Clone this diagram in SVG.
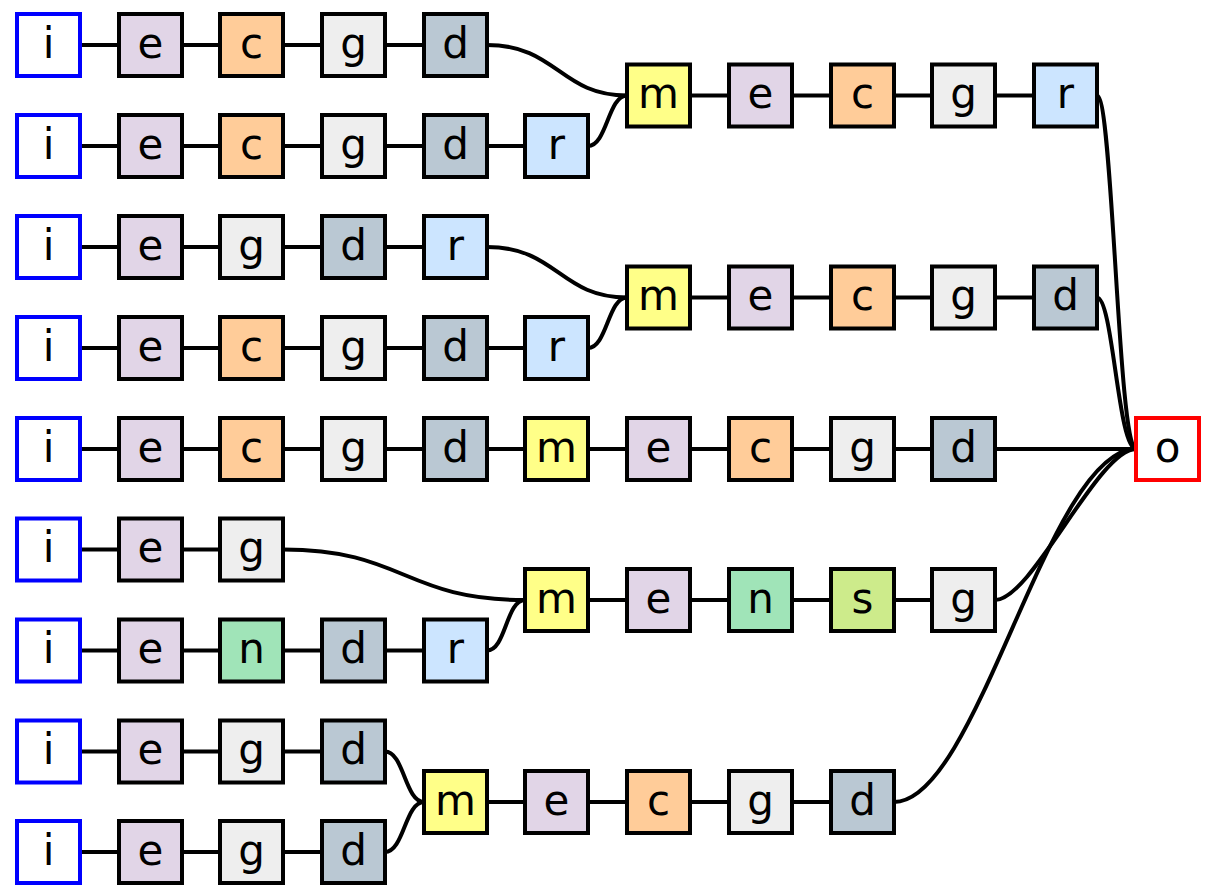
<svg xmlns="http://www.w3.org/2000/svg" width="1210" height="892" viewBox="0 0 1210 892">
<style>
.b{stroke:#000;stroke-width:4}
.i{fill:#fff;stroke:#0000ff}
.o{fill:#fff;stroke:#ff0000}
.e{fill:#e1d5e7}
.c{fill:#ffcc99}
.g{fill:#eeeeee}
.d{fill:#bac8d3}
.r{fill:#cce5ff}
.m{fill:#ffff88}
.n{fill:#a0e4b8}
.s{fill:#cdeb8b}
text{font-family:"DejaVu Sans","Liberation Sans",sans-serif;font-size:42px;text-anchor:middle;fill:#000}
#edges path{stroke:#000;stroke-width:4;fill:none}
</style>
<rect x="0" y="0" width="1210" height="892" fill="#fff"/>
<g id="edges">
<path d="M80,45H119M182,45H220M283,45H322M385,45H424"/>
<path d="M80,146H119M182,146H220M283,146H322M385,146H424M487,146H525"/>
<path d="M80,247H119M182,247H220M283,247H322M385,247H424"/>
<path d="M80,348H119M182,348H220M283,348H322M385,348H424M487,348H525"/>
<path d="M80,449H119M182,449H220M283,449H322M385,449H424M487,449H525M588,449H627M690,449H729M792,449H831M894,449H932"/>
<path d="M80,549.5H119M182,549.5H220"/>
<path d="M80,650.5H119M182,650.5H220M283,650.5H322M385,650.5H424"/>
<path d="M80,751.5H119M182,751.5H220M283,751.5H322"/>
<path d="M80,852H119M182,852H220M283,852H322"/>
<path d="M690,95.5H729M792,95.5H831M894,95.5H932M995,95.5H1034"/>
<path d="M690,297.5H729M792,297.5H831M894,297.5H932M995,297.5H1034"/>
<path d="M588,600H627M690,600H729M792,600H831M894,600H932"/>
<path d="M487,802H525M588,802H627M690,802H729M792,802H831"/>
<path d="M487,45C557,45 560,95.5 627,95.5"/>
<path d="M588,146C607,146 608,95.5 627,95.5"/>
<path d="M487,247C557,247 560,297.5 627,297.5"/>
<path d="M588,348C607,348 608,297.5 627,297.5"/>
<path d="M283,549.5C404,549.5 404,600 525,600"/>
<path d="M487,650.5C506,650.5 506,600 525,600"/>
<path d="M385,751.5C404,751.5 405,802 424,802"/>
<path d="M385,852C404,852 405,802 424,802"/>
<path d="M1097,95.5C1113,95.5 1118,449 1136,449"/>
<path d="M1097,297.5C1113,297.5 1118,449 1136,449"/>
<path d="M995,449H1136"/>
<path d="M995,600C1032,600 1098,449 1136,449"/>
<path d="M894,802C978,802 1048,449 1136,449"/>
</g>
<g id="r0i"><rect class="b i" x="17" y="14" width="63" height="62"/><text x="48.5" y="57.5">i</text></g>
<g id="r0e"><rect class="b e" x="119" y="14" width="63" height="62"/><text x="150.5" y="57.5">e</text></g>
<g id="r0c"><rect class="b c" x="220" y="14" width="63" height="62"/><text x="251.5" y="57.5">c</text></g>
<g id="r0g"><rect class="b g" x="322" y="14" width="63" height="62"/><text x="353.5" y="57.5">g</text></g>
<g id="r0d"><rect class="b d" x="424" y="14" width="63" height="62"/><text x="455.5" y="57.5">d</text></g>
<g id="r1i"><rect class="b i" x="17" y="115" width="63" height="62"/><text x="48.5" y="158.5">i</text></g>
<g id="r1e"><rect class="b e" x="119" y="115" width="63" height="62"/><text x="150.5" y="158.5">e</text></g>
<g id="r1c"><rect class="b c" x="220" y="115" width="63" height="62"/><text x="251.5" y="158.5">c</text></g>
<g id="r1g"><rect class="b g" x="322" y="115" width="63" height="62"/><text x="353.5" y="158.5">g</text></g>
<g id="r1d"><rect class="b d" x="424" y="115" width="63" height="62"/><text x="455.5" y="158.5">d</text></g>
<g id="r1r"><rect class="b r" x="525" y="115" width="63" height="62"/><text x="556.5" y="158.5">r</text></g>
<g id="r2i"><rect class="b i" x="17" y="216" width="63" height="62"/><text x="48.5" y="259.5">i</text></g>
<g id="r2e"><rect class="b e" x="119" y="216" width="63" height="62"/><text x="150.5" y="259.5">e</text></g>
<g id="r2g"><rect class="b g" x="220" y="216" width="63" height="62"/><text x="251.5" y="259.5">g</text></g>
<g id="r2d"><rect class="b d" x="322" y="216" width="63" height="62"/><text x="353.5" y="259.5">d</text></g>
<g id="r2r"><rect class="b r" x="424" y="216" width="63" height="62"/><text x="455.5" y="259.5">r</text></g>
<g id="r3i"><rect class="b i" x="17" y="317" width="63" height="62"/><text x="48.5" y="360.5">i</text></g>
<g id="r3e"><rect class="b e" x="119" y="317" width="63" height="62"/><text x="150.5" y="360.5">e</text></g>
<g id="r3c"><rect class="b c" x="220" y="317" width="63" height="62"/><text x="251.5" y="360.5">c</text></g>
<g id="r3g"><rect class="b g" x="322" y="317" width="63" height="62"/><text x="353.5" y="360.5">g</text></g>
<g id="r3d"><rect class="b d" x="424" y="317" width="63" height="62"/><text x="455.5" y="360.5">d</text></g>
<g id="r3r"><rect class="b r" x="525" y="317" width="63" height="62"/><text x="556.5" y="360.5">r</text></g>
<g id="r4i"><rect class="b i" x="17" y="418" width="63" height="62"/><text x="48.5" y="461.5">i</text></g>
<g id="r4e"><rect class="b e" x="119" y="418" width="63" height="62"/><text x="150.5" y="461.5">e</text></g>
<g id="r4c"><rect class="b c" x="220" y="418" width="63" height="62"/><text x="251.5" y="461.5">c</text></g>
<g id="r4g"><rect class="b g" x="322" y="418" width="63" height="62"/><text x="353.5" y="461.5">g</text></g>
<g id="r4d"><rect class="b d" x="424" y="418" width="63" height="62"/><text x="455.5" y="461.5">d</text></g>
<g id="r4m"><rect class="b m" x="525" y="418" width="63" height="62"/><text x="556.5" y="461.5">m</text></g>
<g id="r4e2"><rect class="b e" x="627" y="418" width="63" height="62"/><text x="658.5" y="461.5">e</text></g>
<g id="r4c2"><rect class="b c" x="729" y="418" width="63" height="62"/><text x="760.5" y="461.5">c</text></g>
<g id="r4g2"><rect class="b g" x="831" y="418" width="63" height="62"/><text x="862.5" y="461.5">g</text></g>
<g id="r4d2"><rect class="b d" x="932" y="418" width="63" height="62"/><text x="963.5" y="461.5">d</text></g>
<g id="out"><rect class="b o" x="1136" y="418" width="63" height="62"/><text x="1167.5" y="461.5">o</text></g>
<g id="r5i"><rect class="b i" x="17" y="518.5" width="63" height="62"/><text x="48.5" y="562">i</text></g>
<g id="r5e"><rect class="b e" x="119" y="518.5" width="63" height="62"/><text x="150.5" y="562">e</text></g>
<g id="r5g"><rect class="b g" x="220" y="518.5" width="63" height="62"/><text x="251.5" y="562">g</text></g>
<g id="r6i"><rect class="b i" x="17" y="619.5" width="63" height="62"/><text x="48.5" y="663">i</text></g>
<g id="r6e"><rect class="b e" x="119" y="619.5" width="63" height="62"/><text x="150.5" y="663">e</text></g>
<g id="r6n"><rect class="b n" x="220" y="619.5" width="63" height="62"/><text x="251.5" y="663">n</text></g>
<g id="r6d"><rect class="b d" x="322" y="619.5" width="63" height="62"/><text x="353.5" y="663">d</text></g>
<g id="r6r"><rect class="b r" x="424" y="619.5" width="63" height="62"/><text x="455.5" y="663">r</text></g>
<g id="r7i"><rect class="b i" x="17" y="720.5" width="63" height="62"/><text x="48.5" y="764">i</text></g>
<g id="r7e"><rect class="b e" x="119" y="720.5" width="63" height="62"/><text x="150.5" y="764">e</text></g>
<g id="r7g"><rect class="b g" x="220" y="720.5" width="63" height="62"/><text x="251.5" y="764">g</text></g>
<g id="r7d"><rect class="b d" x="322" y="720.5" width="63" height="62"/><text x="353.5" y="764">d</text></g>
<g id="r8i"><rect class="b i" x="17" y="821" width="63" height="62"/><text x="48.5" y="864.5">i</text></g>
<g id="r8e"><rect class="b e" x="119" y="821" width="63" height="62"/><text x="150.5" y="864.5">e</text></g>
<g id="r8g"><rect class="b g" x="220" y="821" width="63" height="62"/><text x="251.5" y="864.5">g</text></g>
<g id="r8d"><rect class="b d" x="322" y="821" width="63" height="62"/><text x="353.5" y="864.5">d</text></g>
<g id="m1m"><rect class="b m" x="627" y="64.5" width="63" height="62"/><text x="658.5" y="108">m</text></g>
<g id="m1e"><rect class="b e" x="729" y="64.5" width="63" height="62"/><text x="760.5" y="108">e</text></g>
<g id="m1c"><rect class="b c" x="831" y="64.5" width="63" height="62"/><text x="862.5" y="108">c</text></g>
<g id="m1g"><rect class="b g" x="932" y="64.5" width="63" height="62"/><text x="963.5" y="108">g</text></g>
<g id="m1r"><rect class="b r" x="1034" y="64.5" width="63" height="62"/><text x="1065.5" y="108">r</text></g>
<g id="m2m"><rect class="b m" x="627" y="266.5" width="63" height="62"/><text x="658.5" y="310">m</text></g>
<g id="m2e"><rect class="b e" x="729" y="266.5" width="63" height="62"/><text x="760.5" y="310">e</text></g>
<g id="m2c"><rect class="b c" x="831" y="266.5" width="63" height="62"/><text x="862.5" y="310">c</text></g>
<g id="m2g"><rect class="b g" x="932" y="266.5" width="63" height="62"/><text x="963.5" y="310">g</text></g>
<g id="m2d"><rect class="b d" x="1034" y="266.5" width="63" height="62"/><text x="1065.5" y="310">d</text></g>
<g id="m3m"><rect class="b m" x="525" y="569" width="63" height="62"/><text x="556.5" y="612.5">m</text></g>
<g id="m3e"><rect class="b e" x="627" y="569" width="63" height="62"/><text x="658.5" y="612.5">e</text></g>
<g id="m3n"><rect class="b n" x="729" y="569" width="63" height="62"/><text x="760.5" y="612.5">n</text></g>
<g id="m3s"><rect class="b s" x="831" y="569" width="63" height="62"/><text x="862.5" y="612.5">s</text></g>
<g id="m3g"><rect class="b g" x="932" y="569" width="63" height="62"/><text x="963.5" y="612.5">g</text></g>
<g id="m4m"><rect class="b m" x="424" y="771" width="63" height="62"/><text x="455.5" y="814.5">m</text></g>
<g id="m4e"><rect class="b e" x="525" y="771" width="63" height="62"/><text x="556.5" y="814.5">e</text></g>
<g id="m4c"><rect class="b c" x="627" y="771" width="63" height="62"/><text x="658.5" y="814.5">c</text></g>
<g id="m4g"><rect class="b g" x="729" y="771" width="63" height="62"/><text x="760.5" y="814.5">g</text></g>
<g id="m4d"><rect class="b d" x="831" y="771" width="63" height="62"/><text x="862.5" y="814.5">d</text></g>
</svg>
